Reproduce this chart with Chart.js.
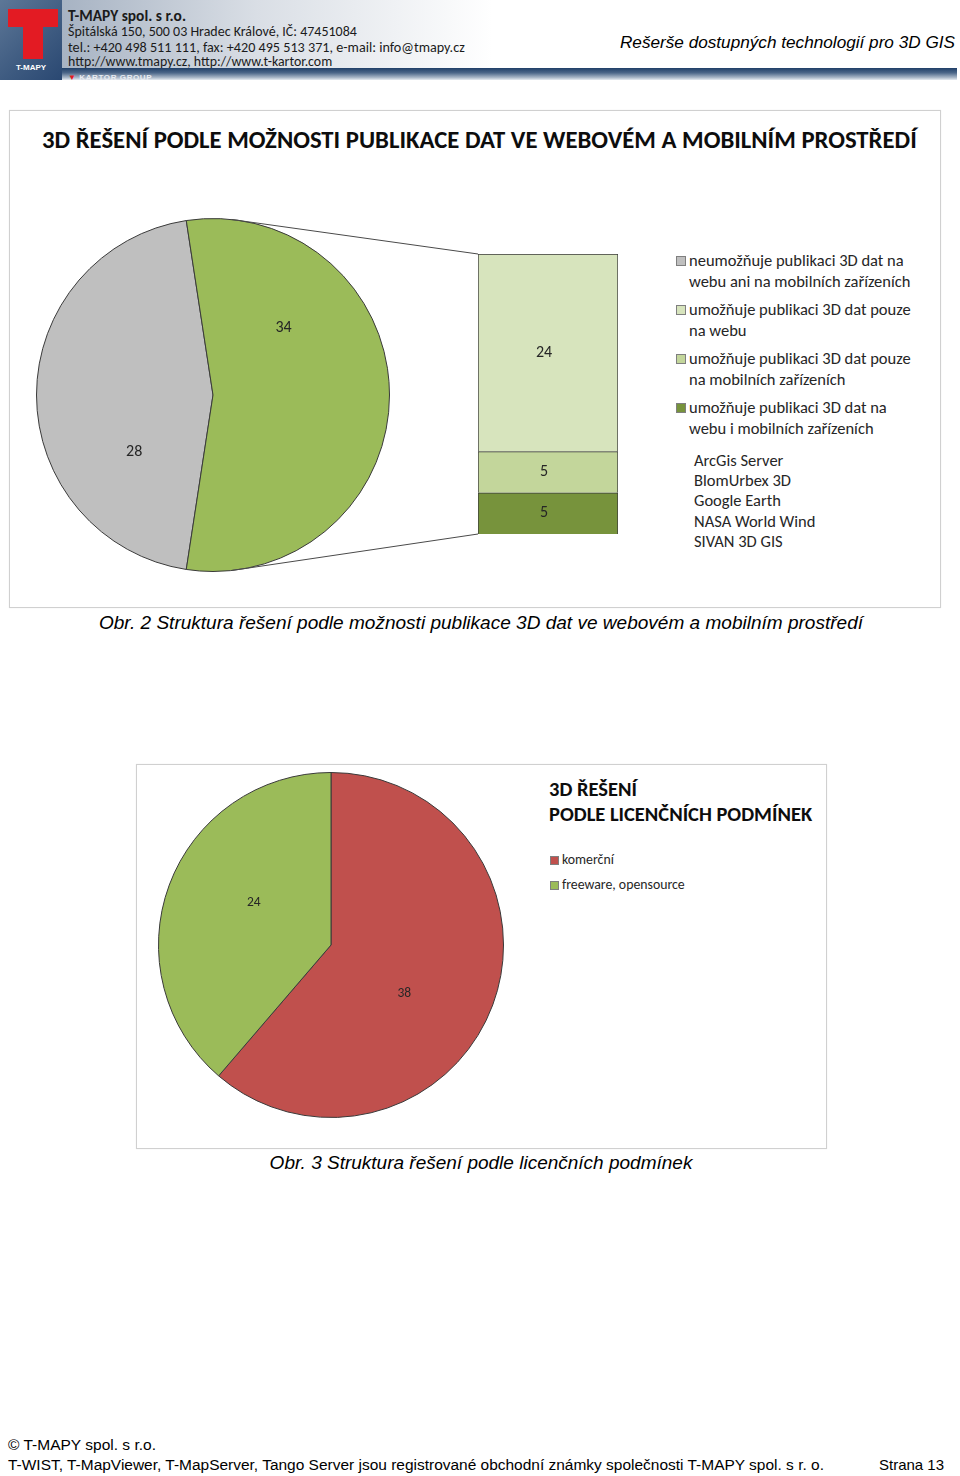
<!DOCTYPE html>
<html lang="cs">
<head>
<meta charset="utf-8">
<script src="https://cdn.jsdelivr.net/npm/chart.js@4.4.1/dist/chart.umd.min.js"></script>
<style>
  body { margin: 0; background: #fff; }
  #page { position: relative; width: 960px; height: 1476px; overflow: hidden; font-family: "Liberation Sans", Arial, sans-serif; color: #000; }
  .a { position: absolute; }
  .t { position: absolute; white-space: nowrap; line-height: 1.2; transform: translateY(-50%); }
  .c { transform: translate(-50%, -50%); }
  .cal { font-family: Carlito, Lato, sans-serif; }
  .box { position: absolute; border: 1px solid #d0d0d0; box-shadow: 0 0 1px #e4e4e4; }
  .leg1 { position: absolute; left: 676px; width: 250px; font-size: 16.5px; line-height: 21px; color: #262626; }
  .leg1 .sw { position: absolute; left: 0; top: 6px; width: 8px; height: 8px; border: 1px solid #7f7f7f; }
  .leg1 .tx { margin-left: 13px; width: 232px; }
  .sw2 { position: absolute; width: 7px; height: 7px; border: 1px solid #7f7f7f; }
</style>
</head>
<body>
<div id="page">
  <!-- hlavička -->
  <div class="a" style="left:62px;top:0;width:430px;height:68px;background:linear-gradient(to right,#a7b3c3 0%,#d9dee5 45%,#fff 100%);"></div>
  <div class="a" style="left:0;top:68px;width:957px;height:12px;background:linear-gradient(to bottom,#203f68 0%,#4b6688 40%,#aab8c8 80%,#e6ebf0 100%);"></div>
  <div class="a" style="left:0;top:0;width:62px;height:80px;background:linear-gradient(135deg,#5d7797 0%,#3d5a80 60%,#2a4872 100%);"></div>
  <div class="a" style="left:8px;top:9px;width:50px;height:18px;background:#e31b23;"></div>
  <div class="a" style="left:23px;top:9px;width:20px;height:50px;background:#e31b23;"></div>
  <div class="t" style="left:31px;top:67px;font:bold 8px 'Liberation Sans',Arial;color:#fff;transform:translate(-50%,-50%);">T-MAPY</div>
  <div class="t" style="left:68px;top:77px;font:bold 8px 'Liberation Sans',Arial;color:#e8ecf1;letter-spacing:0.6px;"><span style="color:#e31b23;">&#9660;</span> KARTOR GROUP</div>
  <div class="t cal fit" data-w="118" style="left:68px;top:16px;font-weight:bold;font-size:14px;color:#1b1b1b;">T-MAPY spol. s r.o.</div>
  <div class="t cal fit" data-w="289" style="left:68px;top:32px;font-size:13px;color:#1b1b1b;">Špitálská 150, 500 03 Hradec Králové, IČ: 47451084</div>
  <div class="t cal fit" data-w="397" style="left:68px;top:47px;font-size:13px;color:#1b1b1b;">tel.: +420 498 511 111, fax: +420 495 513 371, e-mail: info@tmapy.cz</div>
  <div class="t cal fit" data-w="264" style="left:68px;top:62px;font-size:13px;color:#1b1b1b;">http://www.tmapy.cz, http://www.t-kartor.com</div>
  <div class="t fit" data-w="335" style="right:5px;top:42px;font-style:italic;font-size:16.5px;">Rešerše dostupných technologií pro 3D GIS</div>

  <!-- obr. 2 -->
  <div class="box" style="left:9px;top:110px;width:930px;height:496px;"></div>
  <div class="t cal fit" data-w="875" style="left:42px;top:140px;font-weight:bold;font-size:22px;color:#0d0d0d;">3D ŘEŠENÍ PODLE MOŽNOSTI PUBLIKACE DAT VE WEBOVÉM A MOBILNÍM PROSTŘEDÍ</div>
  <canvas id="bar1" class="a" width="156" height="310" style="left:470px;top:240px;"></canvas>
  <canvas id="pie1" class="a" width="444" height="354" style="left:36px;top:218px;"></canvas>
  <div id="legend1" class="cal"></div>
  <div id="products" class="a cal" style="left:694px;top:450px;font-size:16.5px;line-height:20.2px;color:#262626;"></div>
  <div class="t c fit" data-w="764" style="left:481px;top:623px;font-style:italic;font-size:17.5px;">Obr. 2 Struktura řešení podle možnosti publikace 3D dat ve webovém a mobilním prostředí</div>

  <!-- obr. 3 -->
  <div class="box" style="left:136px;top:764px;width:689px;height:383px;"></div>
  <canvas id="pie2" class="a" width="346" height="346" style="left:158px;top:772px;"></canvas>
  <div class="t cal fit" data-w="88" style="left:549px;top:789px;font-weight:bold;font-size:18px;color:#0d0d0d;">3D ŘEŠENÍ</div>
  <div class="t cal fit" data-w="263" style="left:549px;top:814px;font-weight:bold;font-size:18px;color:#0d0d0d;">PODLE LICENČNÍCH PODMÍNEK</div>
  <div id="legend2" class="cal"></div>
  <div class="t c fit" data-w="423" style="left:481px;top:1163px;font-style:italic;font-size:17.5px;">Obr. 3 Struktura řešení podle licenčních podmínek</div>

  <!-- patička -->
  <div class="t fit" data-w="148" style="left:8px;top:1445px;font-size:14px;">© T-MAPY spol. s r.o.</div>
  <div class="t fit" data-w="816" style="left:8px;top:1465px;font-size:14px;">T-WIST, T-MapViewer, T-MapServer, Tango Server jsou registrované obchodní známky společnosti T-MAPY spol. s r. o.</div>
  <div class="t fit" data-w="65" style="left:879px;top:1465px;font-size:14px;">Strana 13</div>
</div>

<script>
// data
const pieLabels = ["neumožňuje publikaci 3D dat na webu ani na mobilních zařízeních", "umožňuje publikaci 3D dat"];
const pieValues = [28, 34];
const barLabels = [
  "umožňuje publikaci 3D dat na webu i mobilních zařízeních",
  "umožňuje publikaci 3D dat pouze na mobilních zařízeních",
  "umožňuje publikaci 3D dat pouze na webu",
];
const barValues = [5, 5, 24];
const products = ["ArcGis Server", "BlomUrbex 3D", "Google Earth", "NASA World Wind", "SIVAN 3D GIS"];
const licenceLabels = ["komerční", "freeware, opensource"];
const licenceValues = [38, 24];

// barvy
const pieColors = ["#BFBFBF", "#9BBB59"];
const barColors = ["#77933C", "#C3D69B", "#D7E4BD"];
const licenceColors = ["#C0504D", "#9BBB59"];

const sum = (a) => a.reduce((s, v) => s + v, 0);

// popisky hodnot
const valueLabels = {
  id: "valueLabels",
  afterDatasetsDraw(chart, args, opts) {
    const ctx = chart.ctx;
    ctx.save();
    ctx.font = opts.font;
    ctx.fillStyle = opts.color;
    ctx.textAlign = "center";
    ctx.textBaseline = "middle";
    chart.data.datasets.forEach((ds, di) => {
      chart.getDatasetMeta(di).data.forEach((el, i) => {
        let x, y;
        if (el.outerRadius !== undefined) {
          const a = el.startAngle + (el.endAngle - el.startAngle) * opts.along;
          x = el.x + Math.cos(a) * el.outerRadius * opts.radial;
          y = el.y + Math.sin(a) * el.outerRadius * opts.radial;
        } else {
          const p = el.getCenterPoint();
          x = p.x + (opts.dx || 0);
          y = p.y;
        }
        ctx.fillText(ds.data[i], x, y);
      });
    });
    ctx.restore();
  },
};

// spojnice kolac -> sloupec
let barChart;
const connector = {
  id: "connector",
  afterDraw(chart, args, opts) {
    if (!barChart) return;
    const arc = chart.getDatasetMeta(0).data[0];
    const a = (opts.angle * Math.PI) / 180;
    const px = arc.x + Math.sin(a) * arc.outerRadius;
    const topY = arc.y - Math.cos(a) * arc.outerRadius;
    const botY = arc.y + Math.cos(a) * arc.outerRadius;
    const r1 = chart.canvas.getBoundingClientRect();
    const r2 = barChart.canvas.getBoundingClientRect();
    const dx = r2.left - r1.left, dy = r2.top - r1.top;
    const top = barChart.getDatasetMeta(barValues.length - 1).data[0];
    const bottom = barChart.getDatasetMeta(0).data[0];
    const bx = dx + top.x - top.width / 2;
    const ctx = chart.ctx;
    ctx.save();
    ctx.strokeStyle = "#4a4a4a";
    ctx.lineWidth = 1;
    ctx.beginPath();
    ctx.moveTo(px, topY);
    ctx.lineTo(bx, dy + top.y);
    ctx.moveTo(px, botY);
    ctx.lineTo(bx, dy + bottom.base);
    ctx.stroke();
    ctx.restore();
  },
};

barChart = new Chart(document.getElementById("bar1"), {
  type: "bar",
  data: {
    labels: [""],
    datasets: barValues.map((v, i) => ({
      label: barLabels[i],
      data: [v],
      backgroundColor: barColors[i],
      borderColor: "#3a3a3a",
      borderWidth: 1,
      barPercentage: 1,
      categoryPercentage: 1,
    })),
  },
  options: {
    responsive: false,
    animation: false,
    layout: { padding: { left: 8, right: 8, top: 14, bottom: 16 } },
    scales: {
      x: { display: false, stacked: true },
      y: { display: false, stacked: true, min: 0, max: sum(barValues) },
    },
    plugins: {
      legend: { display: false },
      tooltip: { enabled: false },
      valueLabels: { font: "16px Carlito, Lato, sans-serif", color: "#262626", dx: -4 },
    },
  },
  plugins: [valueLabels],
});

// zelena vysec natocena doprava ke sloupci
const pieTotal = sum(pieValues);
new Chart(document.getElementById("pie1"), {
  type: "pie",
  data: {
    labels: pieLabels,
    datasets: [{
      data: pieValues,
      backgroundColor: pieColors,
      borderColor: "#3a3a3a",
      borderWidth: 1,
    }],
  },
  options: {
    responsive: false,
    animation: false,
    rotation: 90 - (pieValues[1] / pieTotal) * 180 - (pieValues[0] / pieTotal) * 360,
    layout: { padding: { right: 90 } },
    plugins: {
      legend: { display: false },
      tooltip: { enabled: false },
      valueLabels: { font: "16px Carlito, Lato, sans-serif", color: "#262626", along: 0.28, radial: 0.55 },
      connector: { angle: 6 },
    },
  },
  plugins: [valueLabels, connector],
});

new Chart(document.getElementById("pie2"), {
  type: "pie",
  data: {
    labels: licenceLabels,
    datasets: [{
      data: licenceValues,
      backgroundColor: licenceColors,
      borderColor: "#3a3a3a",
      borderWidth: 1,
    }],
  },
  options: {
    responsive: false,
    animation: false,
    plugins: {
      legend: { display: false },
      tooltip: { enabled: false },
      valueLabels: { font: "13.5px Carlito, Lato, sans-serif", color: "#262626", along: 0.56, radial: 0.51 },
    },
  },
  plugins: [valueLabels],
});

// legenda obr. 2
const legend1 = document.getElementById("legend1");
const items1 = [[pieLabels[0], pieColors[0]]];
for (let i = barLabels.length - 1; i >= 0; i--) items1.push([barLabels[i], barColors[i]]);
items1.forEach(([label, color], i) => {
  const d = document.createElement("div");
  d.className = "leg1";
  d.style.top = 250 + i * 49 + "px";
  d.innerHTML = '<div class="sw" style="background:' + color + '"></div><div class="tx"></div>';
  d.querySelector(".tx").textContent = label;
  legend1.appendChild(d);
});
document.getElementById("products").innerHTML = products.map(() => "<div></div>").join("");
document.querySelectorAll("#products div").forEach((d, i) => (d.textContent = products[i]));

// legenda obr. 3
const legend2 = document.getElementById("legend2");
licenceLabels.forEach((label, i) => {
  const sw = document.createElement("div");
  sw.className = "sw2";
  sw.style.cssText = "left:550px;top:" + (856 + i * 25) + "px;background:" + licenceColors[i];
  legend2.appendChild(sw);
  const t = document.createElement("div");
  t.className = "t cal";
  t.style.cssText = "left:562px;top:" + (860 + i * 25) + "px;font-size:13.8px;color:#262626;";
  t.textContent = label;
  legend2.appendChild(t);
});

// dorovnani sirek textu
function fitAll() {
  document.querySelectorAll(".fit").forEach((el) => {
    const w = +el.dataset.w;
    const fs = parseFloat(getComputedStyle(el).fontSize);
    const cur = el.getBoundingClientRect().width;
    if (cur > 0) el.style.fontSize = (fs * w) / cur + "px";
  });
}
fitAll();
document.fonts.ready.then(fitAll);
</script>
</body>
</html>
